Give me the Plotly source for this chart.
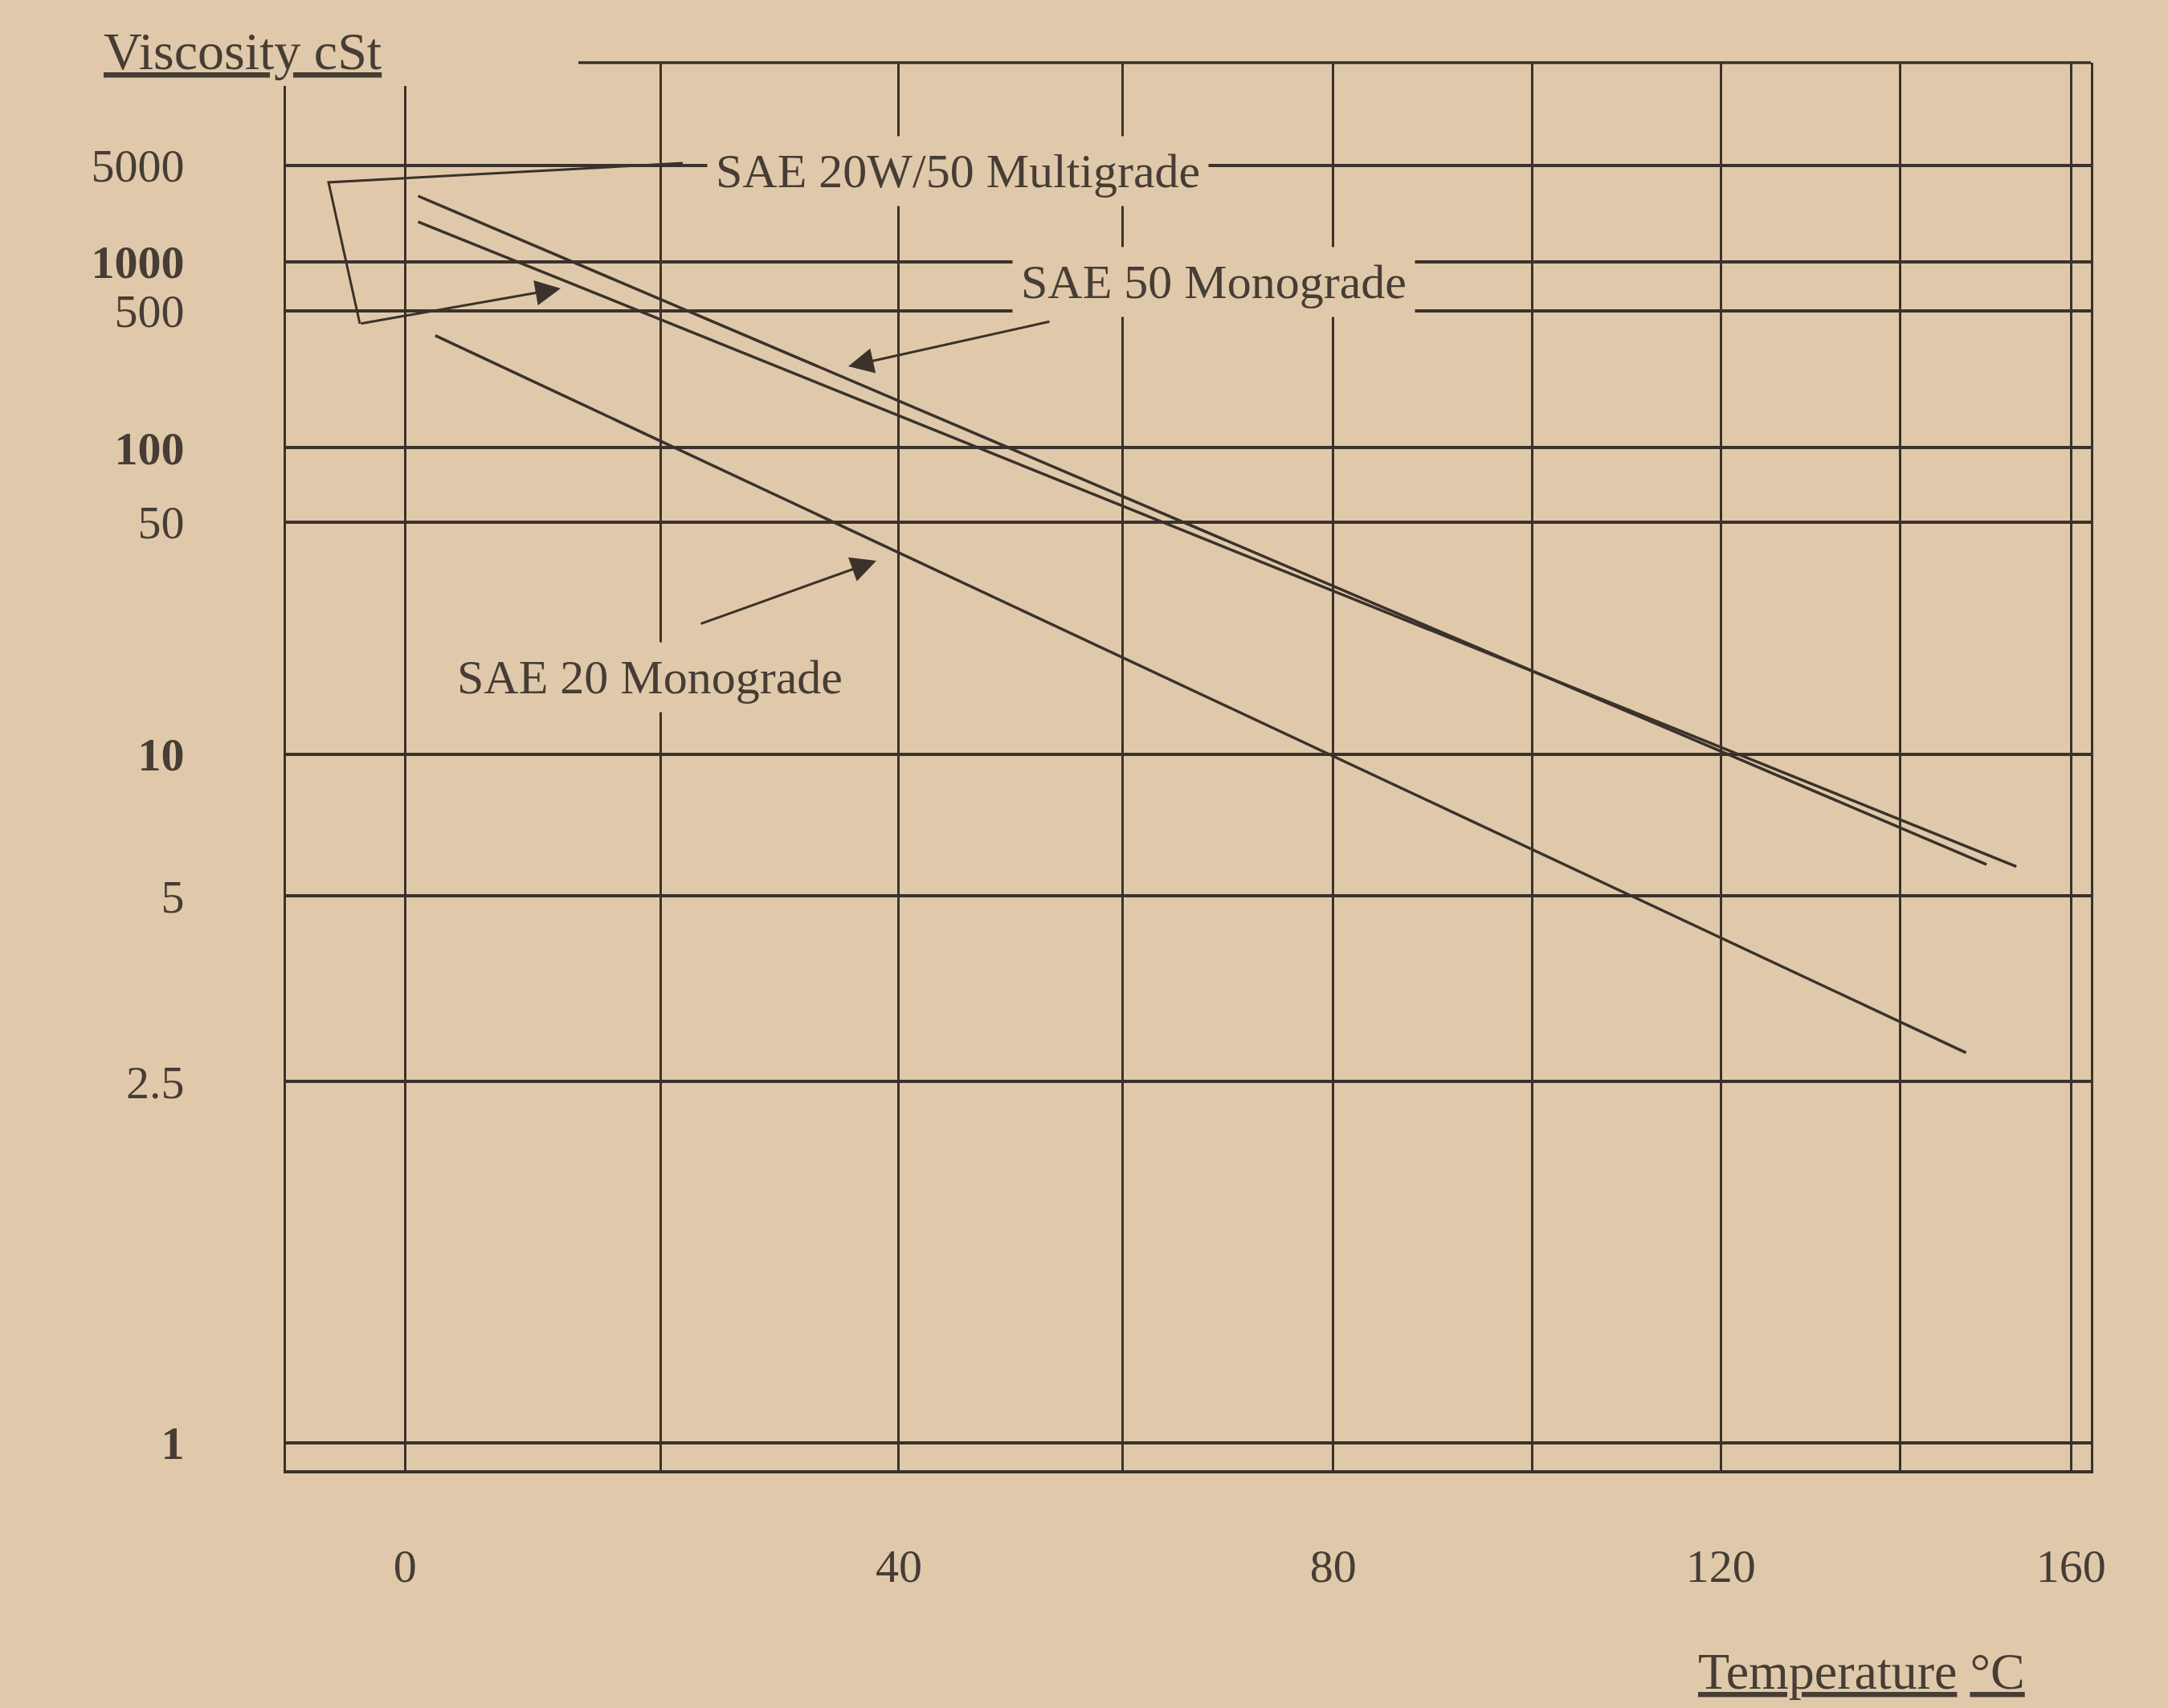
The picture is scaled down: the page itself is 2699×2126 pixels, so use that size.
import numpy as np
import plotly.graph_objects as go

# ---------------- data ----------------
TEMP_GRID = [0, 20, 40, 60, 80, 100, 120, 140, 160]
TEMP_LABELS = ["0", "", "40", "", "80", "", "120", "", "160"]

VISC_TICKS = [5000, 1000, 500, 100, 50, 10, 5, 2.5, 1]
VISC_LABELS = ["5000", "<b>1000</b>", "500", "<b>100</b>", "50",
               "<b>10</b>", "5", "2.5", "<b>1</b>"]

SAE50_MONO_T = [1, 150]
SAE50_MONO_V = [2900, 5.75]

SAE20W50_MULTI_T = [1, 153.5]
SAE20W50_MULTI_V = [1880, 5.7]

SAE20_MONO_T = [2.3, 147.6]
SAE20_MONO_V = [360, 2.75]

# ---------------- chart scales (ASTM D341 style) ----------------
def tx(t):
    return np.log10(np.asarray(t, dtype=float) + 273.15)

def vy(v):
    return np.log10(np.log10(np.asarray(v, dtype=float) + 0.7))

BG = "#e0c9aa"
INK = "#3a322b"
TXT = "#463d35"
FONT = "Liberation Serif"

W, H = 2699, 2126
ML, MR, MT, MB = 356, 96, 78, 296
PW, PH = W - ML - MR, H - MT - MB

# y pixel = A - B * W  (full-size pixels)
A_Y, B_Y = 955.2, 1318.5
Y_TOP = (A_Y - MT) / B_Y
Y_BOT = (A_Y - (H - MB)) / B_Y


def pp(xp, yp):
    """pixel position -> paper coordinates"""
    return (xp - ML) / PW, (H - MB - yp) / PH


fig = go.Figure()
for name, t, v in [("SAE 50 Monograde", SAE50_MONO_T, SAE50_MONO_V),
                   ("SAE 20W/50 Multigrade", SAE20W50_MULTI_T, SAE20W50_MULTI_V),
                   ("SAE 20 Monograde", SAE20_MONO_T, SAE20_MONO_V)]:
    fig.add_trace(go.Scatter(x=tx(t), y=vy(v), mode="lines", name=name,
                             line=dict(color=INK, width=3.5),
                             showlegend=False))

fig.update_layout(
    width=W, height=H,
    margin=dict(l=ML, r=MR, t=MT, b=MB, pad=0, autoexpand=False),
    paper_bgcolor=BG, plot_bgcolor=BG,
    font=dict(family=FONT, color=TXT),
    showlegend=False,
)

fig.update_xaxes(
    range=[2.42210, 2.63903], tickvals=tx(TEMP_GRID), ticktext=TEMP_LABELS,
    showgrid=True, gridcolor=INK, gridwidth=2.6, zeroline=False,
    showline=True, linecolor=INK, linewidth=3.5, mirror=False,
    ticks="", ticklabelstandoff=66, automargin=False,
    tickfont=dict(family=FONT, size=58, color=TXT),
)
fig.update_yaxes(
    range=[Y_BOT, Y_TOP], tickvals=vy(VISC_TICKS), ticktext=VISC_LABELS,
    showgrid=True, gridcolor=INK, gridwidth=3.6, zeroline=False,
    showline=True, linecolor=INK, linewidth=3, mirror=True,
    ticks="", ticklabelstandoff=112, automargin=False,
    tickfont=dict(family=FONT, size=58, color=TXT),
)

shapes = []
# top border (starts to the right of the axis corner, as in the drawing)
x0, _ = pp(720, MT)
shapes.append(dict(type="line", xref="paper", yref="paper", x0=x0, x1=1.0,
                   y0=1.0, y1=1.0, line=dict(color=INK, width=3.5)))
# left verticals stop short of the top
_, cy0 = pp(330, 107)
shapes.append(dict(type="rect", xref="paper", yref="paper", x0=-0.01, x1=pp(700, 0)[0],
                   y0=cy0, y1=1.003, fillcolor=BG, line=dict(width=0), layer="above"))
# bracket leader of the multigrade label
pts = [pp(850, 203), pp(409, 227), pp(448, 403)]
path = "M {} {} L {} {} L {} {}".format(pts[0][0], pts[0][1], pts[1][0], pts[1][1],
                                         pts[2][0], pts[2][1])
shapes.append(dict(type="path", xref="paper", yref="paper", path=path,
                   line=dict(color=INK, width=3)))
fig.update_layout(shapes=shapes)

ann = []


def label(text, xc, yc, size=60):
    x, y = pp(xc, yc)
    ann.append(dict(text=text, x=x, y=y, xref="paper", yref="paper",
                    xanchor="center", yanchor="middle", showarrow=False,
                    font=dict(family=FONT, size=size, color=TXT),
                    bgcolor=BG, borderpad=10))


def arrow(tail, tip):
    x, y = pp(*tip)
    ann.append(dict(text="", x=x, y=y, xref="paper", yref="paper",
                    ax=tail[0] - tip[0], ay=tail[1] - tip[1],
                    showarrow=True, arrowhead=2, arrowsize=2.1, arrowwidth=3,
                    arrowcolor=INK, standoff=0, startstandoff=0))


label("SAE 20W/50 Multigrade", 1192, 213)
label("SAE 50 Monograde", 1511, 351)
label("SAE 20 Monograde", 809, 843)
arrow((448, 403), (698, 359))
arrow((1308, 400), (1056, 456))
arrow((871, 777), (1091, 698))

vx, vyy = pp(302, 64)
ann.append(dict(text="<u>Viscosity cSt</u>", x=vx, y=vyy, xref="paper", yref="paper",
                xanchor="center", yanchor="middle", showarrow=False,
                font=dict(family=FONT, size=66, color=TXT)))
tx_, ty_ = pp(2317, 2080)
ann.append(dict(text="<u>Temperature</u> <u>°C</u>", x=tx_, y=ty_, xref="paper", yref="paper",
                xanchor="center", yanchor="middle", showarrow=False,
                font=dict(family=FONT, size=64, color=TXT)))

fig.update_layout(annotations=ann)
fig.write_html(
    "out.html",
    config={"displayModeBar": False},
    post_script="document.body.style.margin='0';document.body.style.background='%s';" % BG,
)
